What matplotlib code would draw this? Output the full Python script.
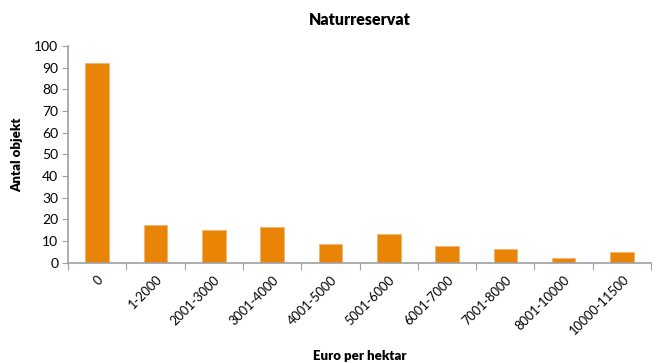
import matplotlib
matplotlib.use("Agg")
import matplotlib.pyplot as plt
import numpy as np

plt.rcParams['font.family'] = ['Lato', 'DejaVu Sans']

# Antal objekt per prisklass (euro per hektar)
klasser = ['0', '1-2000', '2001-3000', '3001-4000', '4001-5000', '5001-6000',
           '6001-7000', '7001-8000', '8001-10000', '10000-11500']
antal = [92, 17.4, 15.1, 16.6, 8.6, 13.2, 7.7, 6.2, 2.3, 4.8]

fig = plt.figure(figsize=(6.57, 3.63), dpi=100)
ax = fig.add_axes([0.1035, 0.2763, 0.8875, 0.597])

x = np.arange(len(klasser))
ax.bar(x, antal, width=0.405, color='#EA8406', edgecolor='#F3B570', linewidth=0.6)

ax.set_xlim(-0.5, len(klasser) - 0.5)
ax.set_ylim(0, 100)
ax.set_yticks(range(0, 101, 10))

# ticks between the categories, labels at the category centres
ax.set_xticks(np.arange(-0.5, len(klasser)), minor=False)
ax.set_xticklabels([])
ax.set_xticks(x, minor=True)
ax.set_xticklabels(klasser, minor=True, rotation=45, ha='right',
                   rotation_mode='anchor', fontsize=9.2)
ax.tick_params(axis='x', which='minor', length=0, pad=8)
ax.tick_params(axis='x', which='major', length=5, color='#A0A0A0')
ax.tick_params(axis='y', length=4, color='#A0A0A0', labelsize=10, pad=3)

for side in ['top', 'right']:
    ax.spines[side].set_visible(False)
for side in ['left', 'bottom']:
    ax.spines[side].set_color('#A0A0A0')
    ax.spines[side].set_linewidth(1.2)

ax.set_title('Naturreservat', fontsize=11.5, fontweight='heavy', pad=15)
ax.set_ylabel('Antal objekt', fontsize=9.5, fontweight='heavy', labelpad=8)
ax.set_xlabel('Euro per hektar', fontsize=9.5, fontweight='heavy', labelpad=9)

fig.savefig('out.png', dpi=100)
